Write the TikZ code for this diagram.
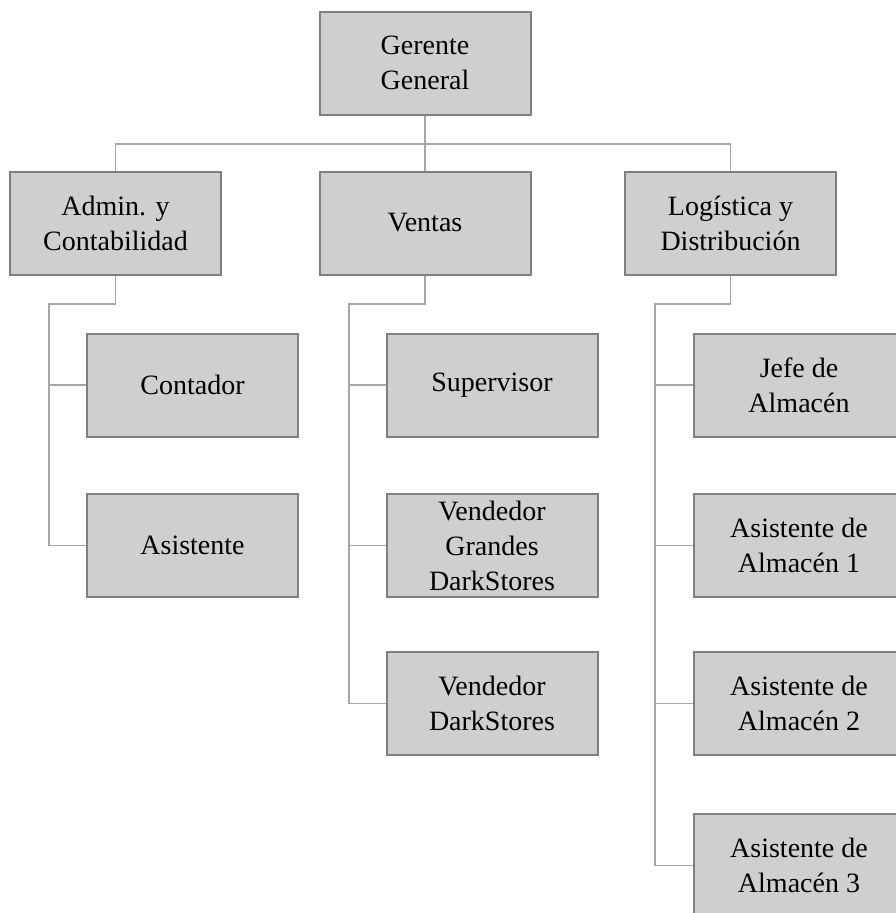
\documentclass[tikz,border=0pt]{standalone}
\usepackage{fontspec}
\setmainfont{Liberation Serif}
\usepackage{tikz}
\usetikzlibrary{positioning}
\definecolor{cajagris}{HTML}{D0CECE}
\definecolor{bordegris}{HTML}{7F7F7F}
\definecolor{lineagris}{HTML}{A6A6A6}

\begin{document}
\begin{tikzpicture}[x=1pt, y=-1pt, align=center,
		puesto/.style={draw=bordegris, line width=2pt, fill=cajagris,
			minimum width=211pt, minimum height=103pt, inner sep=0pt,
			font=\fontsize{28}{35}\selectfont},
		enlace/.style={draw=lineagris, line width=1.3pt}
	]
	\clip (0,0) rectangle (896,913);
	\useasboundingbox (0,0) rectangle (896,913);

	% gerencia
	\node[puesto] (gg)  at (425,63)    {Gerente\\General};

	% areas
	\node[puesto] (adm) at (115.5,223) {Admin. y\\Contabilidad};
	\node[puesto] (vta) at (425,223)   {Ventas};
	\node[puesto] (log) at (730.5,223) {Log\'istica y\\Distribuci\'on};

	% personal
	\node[puesto] (con) at (192.5,385)   {Contador};
	\node[puesto] (asi) at (192.5,545.5) {Asistente};

	\node[puesto] (sup) at (492,385)   {Supervisor};
	\node[puesto] (vgd) at (492,545.5) {Vendedor\\Grandes\\DarkStores};
	\node[puesto] (vds) at (492,703.5) {Vendedor\\DarkStores};

	\node[puesto] (jef) at (799,385)   {Jefe de\\Almac\'en};
	\node[puesto] (aa1) at (799,545.5) {Asistente de\\Almac\'en 1};
	\node[puesto] (aa2) at (799,703.5) {Asistente de\\Almac\'en 2};
	\node[puesto] (aa3) at (799,865.5) {Asistente de\\Almac\'en 3};

	% conectores
	\coordinate (barra) at (425,144);
	\coordinate (badm) at (49,304);
	\coordinate (bvta) at (349,304);
	\coordinate (blog) at (655,304);

	\draw[enlace] (gg.south) -- (vta.north);
	\draw[enlace] (adm.north) |- (barra) -| (log.north);

	\draw[enlace] (adm.south) |- (badm) |- (asi.west);
	\draw[enlace] (badm |- con.west) -- (con.west);

	\draw[enlace] (vta.south) |- (bvta) |- (vds.west);
	\draw[enlace] (bvta |- sup.west) -- (sup.west);
	\draw[enlace] (bvta |- vgd.west) -- (vgd.west);

	\draw[enlace] (log.south) |- (blog) |- (aa3.west);
	\draw[enlace] (blog |- jef.west) -- (jef.west);
	\draw[enlace] (blog |- aa1.west) -- (aa1.west);
	\draw[enlace] (blog |- aa2.west) -- (aa2.west);
\end{tikzpicture}
\end{document}
